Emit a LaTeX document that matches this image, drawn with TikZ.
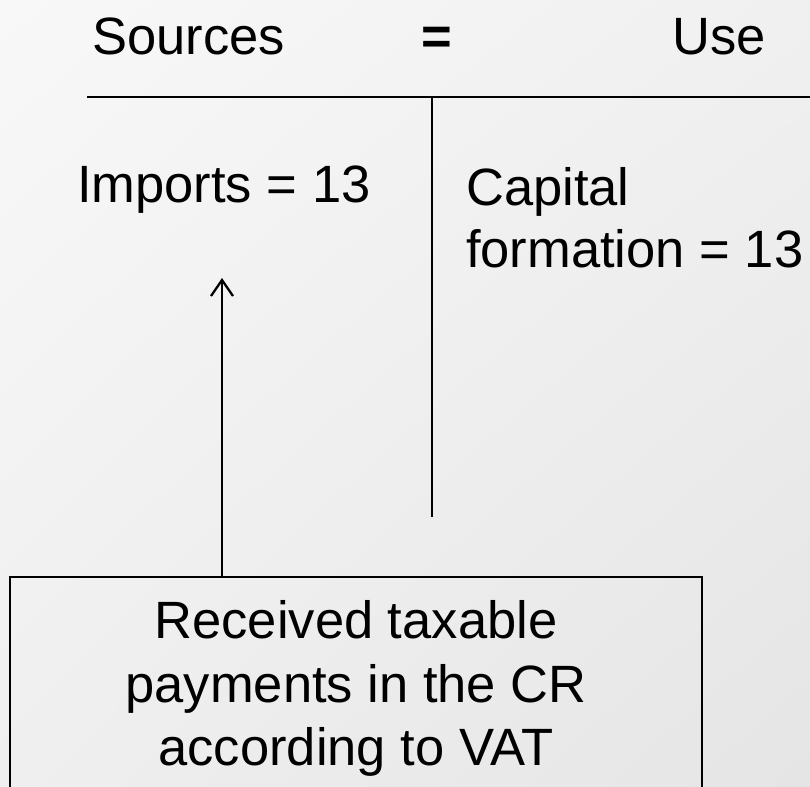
\documentclass[tikz,border=0pt]{standalone}
\usepackage{fontspec}
\setmainfont{Liberation Sans}
\usetikzlibrary{arrows.meta,shadings}
\definecolor{bgTL}{HTML}{F8F8F8}
\definecolor{bgTR}{HTML}{F0F0F0}
\definecolor{bgBL}{HTML}{EFEFEF}
\definecolor{bgBR}{HTML}{E5E5E5}
\tikzset{
  rule/.style={line width=2.3pt, black},
  bigtext/.style={inner sep=0pt, font=\fontsize{52.5}{62}\selectfont},
  boxtext/.style={inner sep=0pt, draw=black, line width=2.3pt, align=center,
    font=\fontsize{52.5}{63.5}\selectfont},
  uparrow/.style={line width=2.3pt, -{Straight Barb[length=16pt,width=22pt,line width=2.3pt]}}
}
\begin{document}
\begin{tikzpicture}[x=1pt,y=-1pt]
\useasboundingbox (0,0) rectangle (810,786);
\shade[upper left=bgTL, upper right=bgTR, lower left=bgBL, lower right=bgBR] (0,0) rectangle (810,786);
\clip (0,0) rectangle (810,786);
% header
\node[bigtext, anchor=base west] (sources) at (92,55) {Sources};
\node[bigtext, anchor=base] (eq) at (437,55) {\textbf{=}};
\node[bigtext, anchor=base west] (use) at (672,55) {Use};
% T-account lines
\coordinate (hl) at (87,97);
\coordinate (hr) at (810,97);
\coordinate (vt) at (432,97);
\coordinate (vb) at (432,517);
\draw[rule] (hl) -- (hr);
\draw[rule] (vt) -- (vb);
% entries
\node[bigtext, anchor=base west] (imports) at (77,203) {Imports = 13};
\node[bigtext, anchor=base west, align=left] (capital) at (466,267) {Capital\\formation = 13};
% box
\node[boxtext, minimum width=692pt, minimum height=223pt] (box) at (356,688.5)
  {Received taxable\\payments in the CR\\according to VAT};
\coordinate (tip) at (222,278);
\draw[uparrow] (box.north -| tip) -- (tip);
\end{tikzpicture}
\end{document}
